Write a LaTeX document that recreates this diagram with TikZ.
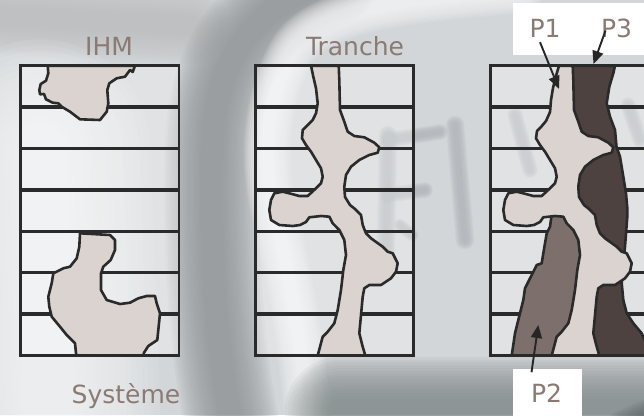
\documentclass[tikz,border=0pt]{standalone}
\usepackage{fontspec}
\setmainfont{DejaVu Sans}
\usetikzlibrary{arrows.meta}

\definecolor{bgbase}{RGB}{211,214,217}
\definecolor{bglight}{RGB}{247,248,249}
\definecolor{bggray}{RGB}{190,192,194}
\definecolor{bgdark}{RGB}{145,148,150}
\definecolor{bgletter}{RGB}{178,183,187}
\definecolor{bgbottom}{RGB}{128,136,136}
\definecolor{bgcorner}{RGB}{85,93,93}
\definecolor{linecol}{RGB}{42,42,42}
\definecolor{blobfill}{RGB}{218,211,208}
\definecolor{ptwo}{RGB}{125,112,108}
\definecolor{pthree}{RGB}{77,66,63}
\definecolor{labelcol}{RGB}{138,122,116}

\newcommand\softline[3]{\foreach \k in {1,...,16}{\draw[#1, line width={#2*(0.3+0.08*\k)}, opacity=0.09, line cap=round, line join=round] #3;}}

\begin{document}
\begin{tikzpicture}[x=1pt,y=-1pt,
  frameline/.style={draw=linecol, line width=2.6pt},
  rowline/.style={draw=linecol, line width=3.4pt},
  framefill/.style={fill=white, fill opacity=0.3},
  blob/.style={fill=blobfill, draw=linecol, line width=2.6pt, line join=round},
  ptwoarea/.style={fill=ptwo, draw=linecol, line width=2.6pt, line join=round},
  pthreearea/.style={fill=pthree, draw=linecol, line width=2.6pt, line join=round},
  lbl/.style={text=labelcol, font=\fontsize{25}{30}\selectfont, inner sep=0pt, anchor=base},
  arr/.style={draw=black!85, line width=1.9pt, -{Triangle[length=13pt,width=11pt]}},
  whitebox/.style={fill=white}]

\useasboundingbox (0,0) rectangle (644,415);
\clip (0,0) rectangle (644,415);

% ---------- background ----------
\fill[bgbase] (0,0) rectangle (644,415);
\softline{bggray}{50}{(-30,15) -- (190,25)}
\softline{bglight}{140}{(40,150) -- (50,420)}
\softline{bgdark}{60}{(330,-20) .. controls (250,10) and (215,60) .. (212,150) .. controls (210,250) and (215,350) .. (235,440)}
\softline{bglight}{30}{(520,-10) .. controls (380,0) and (310,15) .. (290,55) .. controls (268,100) and (262,150) .. (272,200) .. controls (285,260) and (300,320) .. (310,440)}
\softline{bgletter}{12}{(388,135) -- (386,250)}
\softline{bgletter}{10}{(388,140) -- (440,132)}
\softline{bgletter}{10}{(388,195) -- (425,190)}
\softline{bgletter}{12}{(455,125) -- (465,240)}
\softline{bgletter}{10}{(515,115) -- (530,170)}
\softline{bgletter}{10}{(628,105) -- (640,140)}
\softline{bgletter}{8}{(400,225) -- (412,235)}
\softline{bgbottom}{70}{(340,412) -- (720,412)}
\softline{bgcorner}{40}{(630,440) -- (720,400)}

% ---------- frames: fill and row lines ----------
\fill[framefill] (20.5,65.7) rectangle (179,355.5);
\fill[framefill] (255.7,65.7) rectangle (413.3,355.5);
\fill[framefill] (490.7,65.7) rectangle (648,355.5);
\foreach \yy in {107.1,148.5,189.9,231.3,272.7,314.1}{
  \draw[rowline] (20.5,\yy) -- (179,\yy);
  \draw[rowline] (255.7,\yy) -- (413.3,\yy);
  \draw[rowline] (490.7,\yy) -- (648,\yy);
}

% ---------- frame 1 (IHM / Systeme) ----------
\path[blob] (47.7,65.7) -- (135,65.7) -- (132.7,72) -- (130,70) -- (125,76.7) -- (116.7,78.3) -- (109.3,83.3) -- (107.3,90) -- (108.3,103.3) -- (106.7,111.7) -- (100,120) -- (80,119.3) -- (70,111.7) -- (61.7,106.7) -- (58.3,103.3) -- (52.7,102.7) -- (46,99.3) -- (44,94) -- (40,94.3) -- (39.3,90) -- (40.7,84) -- (46,80.7) -- (48.3,73.3) -- cycle;
\path[blob] (80,233.3) -- (110,235) -- (115,240) -- (115,250) -- (110.7,260) -- (103.3,266.7) -- (101,273.3) -- (101,290) -- (106.7,300) -- (120,304) -- (130,302.7) -- (138.3,298.3) -- (146.7,296) -- (155,296) -- (156.7,303.3) -- (160,313.3) -- (158.3,330) -- (157.3,340) -- (148.3,346) -- (144,352.7) -- (143.3,355.5) -- (76.7,355.5) -- (76,353.3) -- (75,343.3) -- (66.7,335) -- (60,326.7) -- (51.7,316.7) -- (49.3,306.7) -- (48.3,296.7) -- (51.7,283.3) -- (53.3,273.3) -- (63.3,268.3) -- (70,266.7) -- (76.7,258.3) -- (79.3,246.7) -- cycle;

% ---------- frame 2 (Tranche) ----------
\path[blob] (311,65.7) -- (338.7,65.7) -- (339.3,80) -- (340,110) -- (344.3,121.7) -- (347.7,131.7) -- (354.3,136) -- (364.3,137.3) -- (374.3,142.7) -- (379.3,147.3) -- (377.7,152.7) -- (369.3,155) -- (359.3,160) -- (351,166.7) -- (346,175) -- (344.3,186.7) -- (345,197) -- (350,205) -- (355,209) -- (361,215) -- (362.7,225) -- (366,233.3) -- (371,238.3) -- (382.7,246.7) -- (387.7,251.7) -- (392.7,253.3) -- (397.7,263.3) -- (396,271.7) -- (391,278.3) -- (381,285) -- (369.3,285) -- (364.3,288.3) -- (362.7,296.7) -- (361,315) -- (359.3,333.3) -- (362.7,346.7) -- (365.3,355.5) -- (317.7,355.5) -- (322.7,336.7) -- (327.7,331.7) -- (334.3,323.3) -- (337.7,310) -- (341,290) -- (343.3,270) -- (346,255) -- (344.3,240) -- (339.3,230) -- (332.7,223.3) -- (329.3,216.7) -- (321,216) -- (309.3,217.3) -- (306,222) -- (300,225) -- (292.7,226) -- (279.3,225) -- (271,220) -- (269.3,210) -- (271,200) -- (274.3,193.3) -- (282.7,191.7) -- (289.3,193.3) -- (299.3,196) -- (307.7,196) -- (316,188.3) -- (321,183.3) -- (322.7,176.7) -- (321,168.3) -- (316,160) -- (311,151.7) -- (306,145) -- (302,138.3) -- (302.7,130) -- (307.7,125) -- (312.7,120) -- (316,113.3) -- (317.7,103.3) -- (316,88.3) -- (313.3,76.7) -- cycle;

% ---------- frame 3 (P1, P2, P3) ----------
\path[pthreearea] (566,65.7) -- (615,65.7) -- (613.3,73.3) -- (609.3,86.7) -- (606.7,103.3) -- (610,116.7) -- (615,130) -- (616.5,146.7) -- (620,156.7) -- (623.3,176.7) -- (626,193.3) -- (627.3,208.3) -- (627.3,216.7) -- (626,233.3) -- (625,246.7) -- (623,265) -- (621.7,283.3) -- (623.3,300) -- (626.7,313.3) -- (633.3,323.3) -- (641.7,333.3) -- (646,343.3) -- (650,355.5) -- (585,355.5) -- (585,230) -- (572,200) -- (572,160) -- (566,130) -- cycle;
\path[ptwoarea] (551.7,214) -- (580,214) -- (585,260) -- (585,300) -- (575,330) -- (565,355.5) -- (511.7,355.5) -- (515,333.3) -- (518.3,320) -- (523.3,300) -- (525,288.3) -- (531.7,275) -- (536.7,265) -- (541.7,263.3) -- (543.3,253.3) -- (545,243.3) -- (546.7,233.3) -- (550,226.7) -- cycle;
\begin{scope}[shift={(234,0)}]
\path[blob] (325,65.7) -- (338.7,65.7) -- (339.3,80) -- (340,110) -- (344.3,121.7) -- (347.7,131.7) -- (354.3,136) -- (364.3,137.3) -- (374.3,142.7) -- (379.3,147.3) -- (377.7,152.7) -- (369.3,155) -- (359.3,160) -- (351,166.7) -- (346,175) -- (344.3,186.7) -- (345,197) -- (350,205) -- (355,209) -- (361,215) -- (362.7,225) -- (366,233.3) -- (371,238.3) -- (382.7,246.7) -- (387.7,251.7) -- (392.7,253.3) -- (397.7,263.3) -- (396,271.7) -- (391,278.3) -- (381,285) -- (369.3,285) -- (364.3,288.3) -- (362.7,296.7) -- (361,315) -- (359.3,333.3) -- (362.7,346.7) -- (365.3,355.5) -- (317.7,355.5) -- (322.7,336.7) -- (327.7,331.7) -- (334.3,323.3) -- (337.7,310) -- (341,290) -- (343.3,270) -- (346,255) -- (344.3,240) -- (339.3,230) -- (332.7,223.3) -- (329.3,216.7) -- (321,216) -- (309.3,217.3) -- (306,222) -- (300,225) -- (292.7,226) -- (279.3,225) -- (271,220) -- (269.3,210) -- (271,200) -- (274.3,193.3) -- (282.7,191.7) -- (289.3,193.3) -- (299.3,196) -- (307.7,196) -- (316,188.3) -- (321,183.3) -- (322.7,176.7) -- (321,168.3) -- (316,160) -- (311,151.7) -- (306,145) -- (302,138.3) -- (303,131) -- (307,127) -- (312,121) -- (316,112) -- (317,100) -- (319,88) -- (322,76) -- cycle;
\end{scope}

% ---------- frame outlines ----------
\draw[frameline] (20.5,65.7) rectangle (179,355.5);
\draw[frameline] (255.7,65.7) rectangle (413.3,355.5);
\draw[frameline] (490.7,65.7) rectangle (648,355.5);

% ---------- labels ----------
\node[lbl] (ihm) at (109,55) {IHM};
\node[lbl] (tranche) at (355,55) {Tranche};
\node[lbl] (systeme) at (126,403) {Système};

\fill[whitebox] (512.7,3) rectangle (648,55);
\fill[whitebox] (512.7,369) rectangle (581.7,420);
\node[lbl] (p1) at (545,37) {P1};
\node[lbl] (p3) at (616.5,37) {P3};
\node[lbl] (p2) at (546.5,402) {P2};

\coordinate (p1tip) at (559,89);
\coordinate (p3tip) at (593.5,64);
\coordinate (p2tip) at (538.3,325);
\draw[arr] ([xshift=-5pt,yshift=-5pt]p1.south) -- (p1tip);
\draw[arr] ([xshift=-11pt,yshift=7pt]p3.south) -- (p3tip);
\draw[arr] ([xshift=-15pt,yshift=11pt]p2.north) -- (p2tip);
\end{tikzpicture}
\end{document}
